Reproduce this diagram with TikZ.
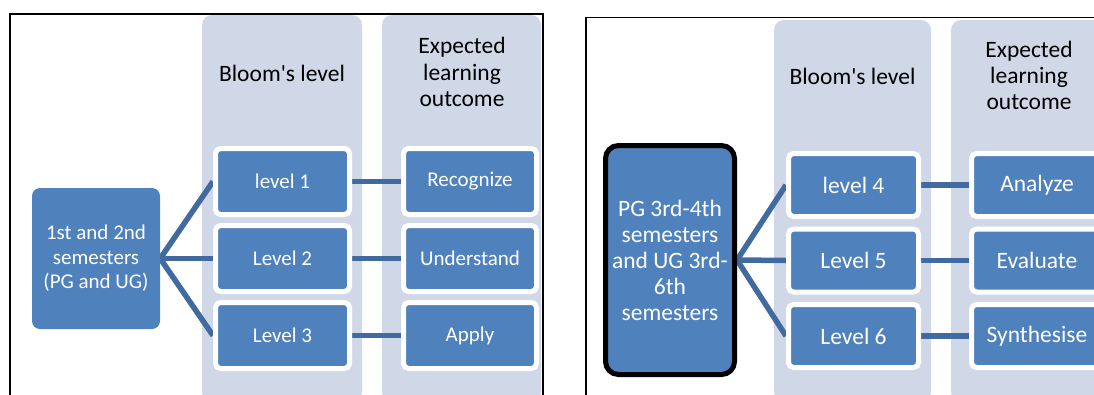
\documentclass[tikz,border=0pt]{standalone}
\usepackage{fontspec}
\setmainfont{Carlito}
\definecolor{boxblue}{HTML}{4F81BD}
\definecolor{colbg}{HTML}{D0D8E8}
\definecolor{linkblue}{HTML}{416BA0}
\pgfdeclarelayer{columns}
\pgfdeclarelayer{links}
\pgfsetlayers{columns,links,main}
\begin{document}
\begin{tikzpicture}[x=1pt,y=-1pt,
  lvlbox/.style={draw=white, line width=5pt, fill=boxblue, rounded corners=5pt,
    text=white, inner sep=0pt, align=center},
  srcbox/.style={fill=boxblue, text=white, inner sep=0pt, align=center},
  link/.style={draw=linkblue, line width=5.5pt},
  colbox/.style={fill=colbg, rounded corners=10pt},
  frame/.style={draw=black, line width=1.5pt},
  head/.style={align=center, inner sep=0pt, text=black}]
\useasboundingbox (0,0) rectangle (1094,394);
\clip (0,0) rectangle (1094,394);

% ---------- first panel: 1st and 2nd semesters ----------
\draw[frame] (10,14) rectangle (543,430);
\begin{pgfonlayer}{columns}
  \begin{scope}
    \clip (0,0) rectangle (1094,394);
    \fill[colbox] (202,15) rectangle (362,402);
    \fill[colbox] (382,15) rectangle (541,402);
  \end{scope}
\end{pgfonlayer}
\node[head, font=\fontsize{23.5}{26.5}\selectfont] (hA1) at (282,73) {Bloom\textquotesingle s level};
\node[head, font=\fontsize{23.5}{26.5}\selectfont] (hB1) at (462,72) {Expected\\learning\\outcome};

\begin{scope}[every node/.append style={font=\fontsize{21}{24.5}\selectfont}]
  \node[srcbox, rounded corners=8pt, minimum width=128pt, minimum height=141pt]
    (s1) at (96,258.5) {1st and 2nd\\semesters\\(PG and UG)};
  \node[lvlbox, minimum width=134pt, minimum height=66pt] (l1) at (282.5,181.5) {level 1};
  \node[lvlbox, minimum width=134pt, minimum height=66pt] (l2) at (282.5,258.5) {Level 2};
  \node[lvlbox, minimum width=134pt, minimum height=66pt] (l3) at (282.5,335.5) {Level 3};
  \node[lvlbox, minimum width=133pt, minimum height=66pt] (o1) at (470,181.5) {Recognize};
  \node[lvlbox, minimum width=133pt, minimum height=66pt] (o2) at (470,258.5) {Understand};
  \node[lvlbox, minimum width=133pt, minimum height=66pt] (o3) at (470,335.5) {Apply};
\end{scope}

\begin{pgfonlayer}{links}
  \draw[link] (s1.east) -- (l1.west);
  \draw[link] (s1.east) -- (l2.west);
  \draw[link] (s1.east) -- (l3.west);
  \draw[link] (l1.east) -- (o1.west);
  \draw[link] (l2.east) -- (o2.west);
  \draw[link] (l3.east) -- (o3.west);
\end{pgfonlayer}

% ---------- second panel: later semesters ----------
\draw[frame] (586,17.5) rectangle (1130,430);
\begin{pgfonlayer}{columns}
  \begin{scope}
    \clip (0,0) rectangle (1094,394);
    \fill[colbox] (774,20) rectangle (931,402);
    \fill[colbox] (951,20) rectangle (1108,402);
  \end{scope}
\end{pgfonlayer}
\node[head, font=\fontsize{23.5}{26.5}\selectfont] (hA2) at (852.5,76) {Bloom\textquotesingle s level};
\node[head, font=\fontsize{23.5}{26}\selectfont] (hB2) at (1029,75) {Expected\\learning\\outcome};

\begin{scope}[every node/.append style={font=\fontsize{23.5}{26}\selectfont}]
  \node[srcbox, draw=black, line width=5pt, rounded corners=13pt,
    minimum width=129pt, minimum height=229pt]
    (s2) at (670,260) {PG 3rd-4th\\semesters\\and UG 3rd-\\6th\\semesters};
  \node[lvlbox, minimum width=130pt, minimum height=63pt] (l4) at (853.5,185) {level 4};
  \node[lvlbox, minimum width=130pt, minimum height=63pt] (l5) at (853.5,260.5) {Level 5};
  \node[lvlbox, minimum width=130pt, minimum height=63pt] (l6) at (853.5,336) {Level 6};
  \node[lvlbox, minimum width=131pt, minimum height=63pt] (o4) at (1037,185) {Analyze};
  \node[lvlbox, minimum width=131pt, minimum height=63pt] (o5) at (1037,260.5) {Evaluate};
  \node[lvlbox, minimum width=131pt, minimum height=63pt] (o6) at (1037,336) {Synthesise};
\end{scope}

\begin{pgfonlayer}{links}
  \draw[link] (s2.east) -- (l4.west);
  \draw[link] (s2.east) -- (l5.west);
  \draw[link] (s2.east) -- (l6.west);
  \draw[link] (l4.east) -- (o4.west);
  \draw[link] (l5.east) -- (o5.west);
  \draw[link] (l6.east) -- (o6.west);
\end{pgfonlayer}
\end{tikzpicture}
\end{document}
